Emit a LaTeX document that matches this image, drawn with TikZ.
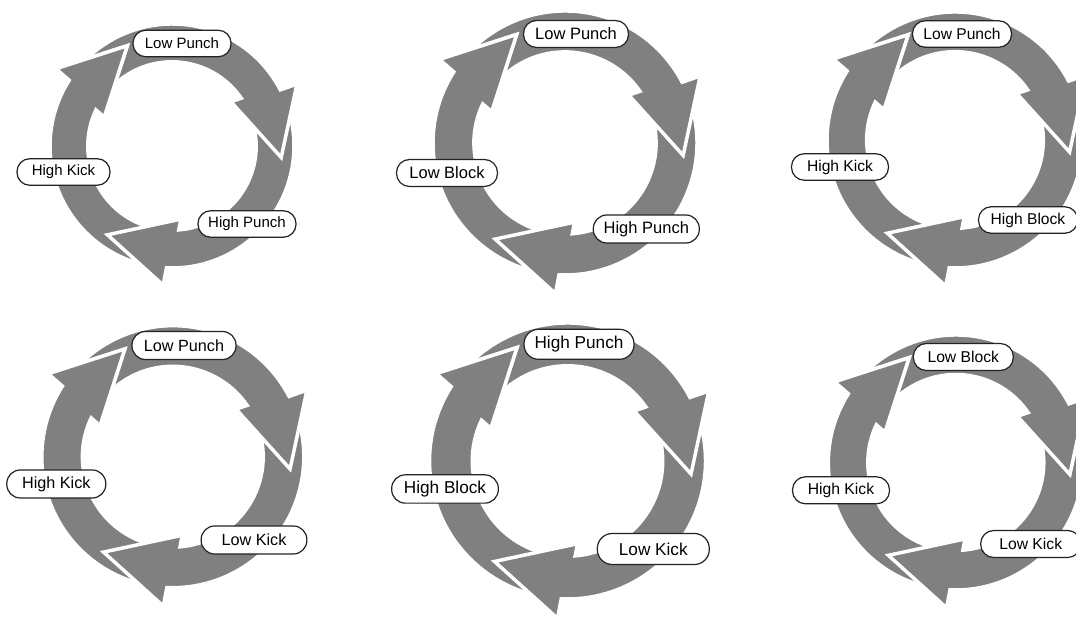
\documentclass[tikz,border=0pt]{standalone}
\usepackage{fontspec}
\setmainfont{Liberation Sans}
\usetikzlibrary{calc}

\definecolor{arrowfill}{RGB}{128,128,128}
\definecolor{pillline}{RGB}{35,35,35}

\tikzset{
  arrowbody/.style={fill=arrowfill, draw=white, line width=3.5pt, line join=miter},
  pill/.style n args={4}{draw=pillline, fill=white, line width=1.2pt, text=black,
    inner sep=0pt, minimum width=#1pt, minimum height=#2pt,
    rounded corners=#2*0.5pt-0.5pt, font=\fontsize{#3}{#4}\selectfont},
}

% One curved arrow of a three-arrow ring: head base at angle #1, outer radius #2 (pt)
\newcommand\ringarrow[2]{%
  \path[arrowbody]
    (#1+125:#2pt) arc[start angle=#1+125, end angle=#1-2.6, radius=#2pt]
    -- ($(#1:0.87*#2pt)!0.28*#2pt!90:(#1-36:0.9*#2pt)$)
    -- (#1-36:0.9*#2pt)
    -- ($(#1:0.87*#2pt)!0.28*#2pt!-90:(#1-36:0.9*#2pt)$)
    -- (#1+4.6:0.69*#2pt)
    arc[start angle=#1+4.6, end angle=#1+125, radius=0.69*#2pt]
    -- cycle;}

% Three clockwise arrows forming a ring centred at (#1,#2) with outer radius #3
\newcommand\arrowring[3]{%
  \begin{scope}[shift={(#1,#2)}]
    \foreach \hb in {30,-90,150} {\ringarrow{\hb}{#3}}
    % bring every head back on top of the following arrow's tail
    \foreach \hb in {30,-90,150} {
      \begin{scope}
        \clip (0,0) -- (\hb+15:1.5*#3pt)
          arc[start angle=\hb+15, end angle=\hb-50, radius=1.5*#3pt] -- cycle;
        \ringarrow{\hb}{#3}
      \end{scope}
    }
  \end{scope}}

\begin{document}
\begin{tikzpicture}[x=1pt, y=1pt]
  \useasboundingbox (0,0) rectangle (1076,618);
  \clip (0,0) rectangle (1076,618);

  % rings
  \arrowring{172}{472}{122}
  \arrowring{565}{475}{132}
  \arrowring{955}{478}{128}
  \arrowring{172.8}{161.3}{131}
  \arrowring{567.5}{157}{138}
  \arrowring{955.8}{155.5}{127.5}

  % labels, top row
  \node[pill={98}{26.5}{15}{18}]   (lp1) at (182,574.5) {Low Punch};
  \node[pill={93}{26.5}{15}{18}]   (hk1) at (63.5,446)  {High Kick};
  \node[pill={98}{26.5}{15}{18}]   (hp1) at (247,394)   {High Punch};

  \node[pill={105}{27}{16.5}{19}]  (lp2) at (576,584)   {Low Punch};
  \node[pill={101}{27}{16.5}{19}]  (lb2) at (447,445)   {Low Block};
  \node[pill={106}{28}{16.5}{19}]  (hp2) at (646.3,389) {High Punch};

  \node[pill={99}{26.5}{15.6}{18}] (lp3) at (962,584)   {Low Punch};
  \node[pill={97}{26.5}{15.6}{18}] (hk3) at (840,451)   {High Kick};
  \node[pill={99}{26.5}{15.6}{18}] (hb3) at (1028,398)  {High Block};

  % labels, bottom row
  \node[pill={104}{28}{16.2}{19}]  (lp4) at (184,272.5) {Low Punch};
  \node[pill={99}{28}{16.2}{19}]   (hk4) at (56.3,134)  {High Kick};
  \node[pill={105.7}{28}{16.2}{19}](lk4) at (254,78)    {Low Kick};

  \node[pill={110}{30}{17.2}{20}]  (hp5) at (579,273.7) {High Punch};
  \node[pill={106.7}{28.3}{17.2}{20}] (hb5) at (445,129) {High Block};
  \node[pill={112}{31}{17.2}{20}]  (lk5) at (653.3,69)  {Low Kick};

  \node[pill={100}{27}{15.7}{18}]  (lb6) at (963.3,261) {Low Block};
  \node[pill={97}{27}{15.7}{18}]   (hk6) at (841,127.7) {High Kick};
  \node[pill={100}{27}{15.7}{18}]  (lk6) at (1030.7,74) {Low Kick};
\end{tikzpicture}
\end{document}
